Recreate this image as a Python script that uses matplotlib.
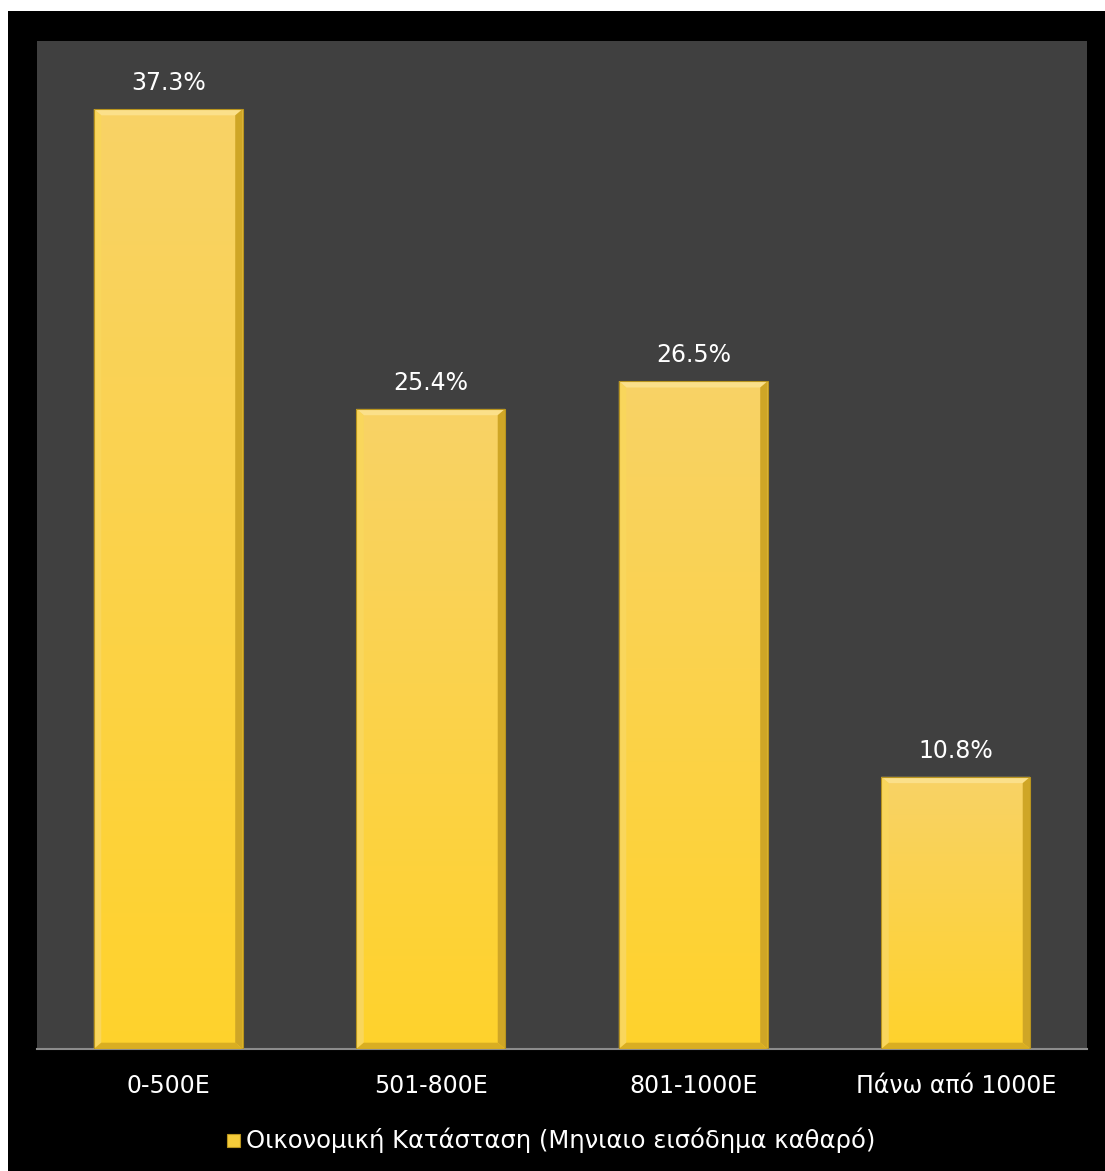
import numpy as np
import matplotlib.pyplot as plt
from matplotlib.patches import Rectangle, Polygon
from matplotlib.colors import LinearSegmentedColormap

plt.rcParams['font.family'] = ['DejaVu Sans']

categories = ['0-500E', '501-800E', '801-1000E', 'Πάνω από 1000E']
values = [37.3, 25.4, 26.5, 10.8]
value_labels = ['37.3%', '25.4%', '26.5%', '10.8%']
series_name = 'Οικονομική Κατάσταση (Μηνιαιο εισόδημα καθαρό)'

W, H = 1105, 1171
fig = plt.figure(figsize=(W / 100, H / 100), dpi=100, facecolor='black')

# thin white strips on the left and top edge
fig.patches.append(Rectangle((0, 0), 8 / W, 1, transform=fig.transFigure,
                             facecolor='white', edgecolor='none', zorder=0))
fig.patches.append(Rectangle((0, 1 - 11 / H), 1, 11 / H, transform=fig.transFigure,
                             facecolor='white', edgecolor='none', zorder=0))

ax = fig.add_axes([37 / W, 1 - 1049 / H, (1087 - 37) / W, (1049 - 41) / H])
ax.set_zorder(2)
ax.set_facecolor('#404040')
ax.set_xlim(-0.5, len(categories) - 0.5)
ax.set_ylim(0, 40)

bar_w = 0.567
grad = LinearSegmentedColormap.from_list('gold', ['#FFD22C', '#F8D366'])
ramp = np.linspace(0, 1, 256).reshape(-1, 1)

for i, v in enumerate(values):
    x0, x1 = i - bar_w / 2, i + bar_w / 2
    im = ax.imshow(ramp, cmap=grad, aspect='auto', origin='lower',
                   extent=(x0, x1, 0, v), zorder=2)
    clip = Rectangle((x0, 0), bar_w, v, transform=ax.transData)
    im.set_clip_path(clip)
    # bevel edges
    bx = bar_w * 0.05
    by = 0.25
    ax.add_patch(Polygon([(x0, v), (x1, v), (x1 - bx, v - by), (x0 + bx, v - by)],
                         closed=True, facecolor='#FBE08A', edgecolor='none', zorder=3))
    ax.add_patch(Polygon([(x1, v), (x1, 0), (x1 - bx, by), (x1 - bx, v - by)],
                         closed=True, facecolor='#CFA626', edgecolor='none', zorder=3))
    ax.add_patch(Polygon([(x0, v), (x0, 0), (x0 + bx, by), (x0 + bx, v - by)],
                         closed=True, facecolor='#F9D65C', edgecolor='none', zorder=3))
    ax.add_patch(Polygon([(x0, 0), (x1, 0), (x1 - bx, by), (x0 + bx, by)],
                         closed=True, facecolor='#D9AE22', edgecolor='none', zorder=3))
    ax.add_patch(Rectangle((x0, 0), bar_w, v, facecolor='none',
                           edgecolor='#B8941E', linewidth=0.8, zorder=4))
    ax.text(i, v + 0.55, value_labels[i], ha='center', va='bottom',
            color='white', fontsize=17)

for s in ['top', 'right', 'left']:
    ax.spines[s].set_visible(False)
ax.spines['bottom'].set_color('#8C8C8C')
ax.spines['bottom'].set_linewidth(1.5)
ax.set_yticks([])
ax.set_xticks(range(len(categories)))
ax.set_xticklabels(categories, color='white', fontsize=17)
ax.tick_params(axis='x', length=0, pad=18)

# legend
fig.patches.append(Rectangle((227 / W, 1 - 1147 / H), 13 / W, 13 / H,
                             transform=fig.transFigure, facecolor='#F5CC3A',
                             edgecolor='#B8941E', linewidth=0.8, zorder=2))
fig.text(246 / W, 1 - 1140 / H, series_name, color='white', fontsize=17.5,
         ha='left', va='center')

fig.savefig('out.png', dpi=100, facecolor=fig.get_facecolor())
